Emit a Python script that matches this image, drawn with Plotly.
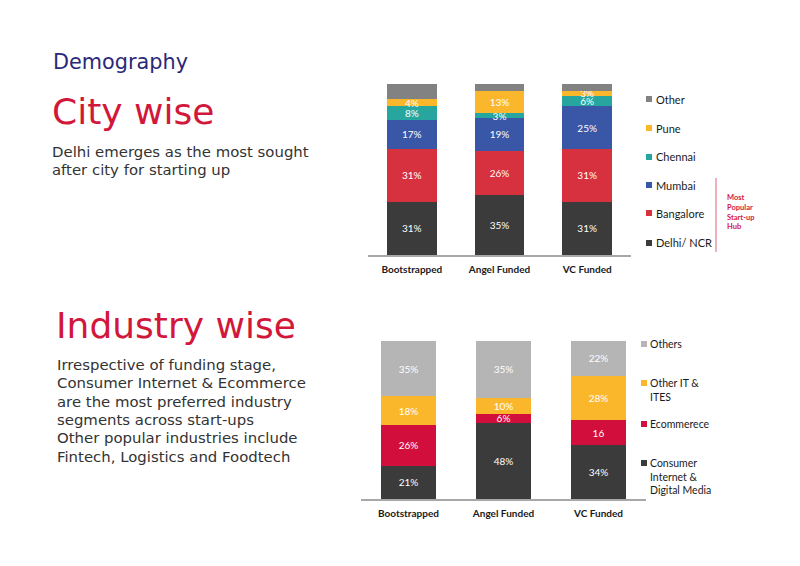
import plotly.graph_objects as go

W, H = 800, 566

# ---------------- data ----------------
funding = ["Bootstrapped", "Angel Funded", "VC Funded"]

# City wise (%)
city_names = ["Delhi/ NCR", "Bangalore", "Mumbai", "Chennai", "Pune", "Other"]
delhi = [31, 35, 31]
bangalore = [31, 26, 31]
mumbai = [17, 19, 25]
chennai = [8, 3, 6]
pune = [4, 13, 3]
other_city = [9, 4, 4]
city_series = [delhi, bangalore, mumbai, chennai, pune, other_city]
city_show_label = [True, True, True, True, True, False]

# Industry wise (%)
ind_names = ["Consumer<br>Internet &<br>Digital Media", "Ecommerece", "Other IT &<br>ITES", "Others"]
consumer = [21, 48, 34]
ecommerce = [26, 6, 16]
other_it = [18, 10, 28]
others_ind = [35, 36, 22]
ind_series = [consumer, ecommerce, other_it, others_ind]
ind_text = [
    ["21%", "48%", "34%"],
    ["26%", "6%", "16"],
    ["18%", "10%", "28%"],
    ["35%", "35%", "22%"],
]

# ---------------- style ----------------
city_colors = ["#3b3b3b", "#d7303e", "#3a56a6", "#26a69e", "#fbb72c", "#828282"]
ind_colors = ["#3b3b3b", "#d20e3c", "#fbb72c", "#b5b5b5"]
LABEL_FONT = "Lato"
TEXT_FONT = "DejaVu Sans"


def px(x):
    return x / W


def py(y):
    return 1 - y / H


fig = go.Figure()

for name, vals, col, show in zip(city_names, city_series, city_colors, city_show_label):
    fig.add_trace(go.Bar(
        x=funding, y=vals, name=name, marker=dict(color=col, line=dict(width=0)),
        text=[f"{v}%" for v in vals] if show else None,
        textposition="inside", insidetextanchor="middle", constraintext="none",
        textfont=dict(color="white", size=10, family=LABEL_FONT),
        textangle=0, xaxis="x", yaxis="y", showlegend=False, cliponaxis=False,
    ))

for name, vals, col, txt in zip(ind_names, ind_series, ind_colors, ind_text):
    fig.add_trace(go.Bar(
        x=funding, y=vals, name=name, marker=dict(color=col, line=dict(width=0)),
        text=txt, textposition="inside", insidetextanchor="middle", constraintext="none",
        textfont=dict(color="white", size=10, family=LABEL_FONT),
        textangle=0, xaxis="x2", yaxis="y2", showlegend=False, cliponaxis=False,
    ))

axis_common = dict(showline=True, linecolor="#a8a8a8", linewidth=1.5, ticks="",
                   showgrid=False, zeroline=False, ticklabelstandoff=4,
                   tickfont=dict(family=LABEL_FONT, size=10, color="#1a1a1a", weight="bold"))

fig.update_layout(
    width=W, height=H, margin=dict(l=0, r=0, t=0, b=0),
    paper_bgcolor="white", plot_bgcolor="white",
    barmode="stack", bargap=0.43,
    xaxis=dict(domain=[px(368), px(631)], anchor="y", **axis_common),
    yaxis=dict(domain=[py(255), py(84)], range=[0, 100], visible=False, fixedrange=True),
    xaxis2=dict(domain=[px(361), px(646)], anchor="y2", **axis_common),
    yaxis2=dict(domain=[py(499), py(341)], range=[0, 100], visible=False, fixedrange=True),
    showlegend=False,
)

annotations = []
shapes = []

# Legend - city (top to bottom)
city_leg_y = [243, 213, 185, 157, 128, 99]
for name, col, yy in zip(city_names, city_colors, city_leg_y):
    shapes.append(dict(type="rect", xref="paper", yref="paper",
                       x0=px(646), x1=px(652), y0=py(yy + 3), y1=py(yy - 3),
                       fillcolor=col, line=dict(width=0)))
    annotations.append(dict(text=name, x=px(654), y=py(yy), xref="paper", yref="paper",
                            xanchor="left", yanchor="middle", showarrow=False,
                            font=dict(family=LABEL_FONT, size=11, color="#1a1a1a")))

# Most popular hub marker
shapes.append(dict(type="line", xref="paper", yref="paper",
                   x0=px(716), x1=px(716), y0=py(178), y1=py(252),
                   line=dict(color="#e0607a", width=1)))
annotations.append(dict(text="<b>Most<br>Popular<br>Start-up<br>Hub</b>", x=px(725), y=py(212),
                        xref="paper", yref="paper", xanchor="left", yanchor="middle",
                        align="left", showarrow=False,
                        font=dict(family=LABEL_FONT, size=7.5, color="#d6173f")))

# Legend - industry
ind_leg_y = [463, 424, 383, 344]
for name, col, yy in zip(ind_names, ind_colors, ind_leg_y):
    shapes.append(dict(type="rect", xref="paper", yref="paper",
                       x0=px(641), x1=px(647), y0=py(yy + 3), y1=py(yy - 3),
                       fillcolor=col, line=dict(width=0)))
    annotations.append(dict(text=name, x=px(648), y=py(yy - 8), xref="paper", yref="paper",
                            xanchor="left", yanchor="top", align="left", showarrow=False,
                            font=dict(family=LABEL_FONT, size=10.5, color="#1a1a1a")))

# Headings and body text
annotations.append(dict(text="Demography", x=px(51), y=py(62), xref="paper", yref="paper",
                        xanchor="left", yanchor="middle", showarrow=False,
                        font=dict(family=TEXT_FONT, size=20.8, color="#2a2878")))
annotations.append(dict(text="City wise", x=px(50), y=py(111), xref="paper", yref="paper",
                        xanchor="left", yanchor="middle", showarrow=False,
                        font=dict(family=TEXT_FONT, size=36, color="#d2173a")))
annotations.append(dict(text="Industry wise", x=px(54), y=py(325), xref="paper", yref="paper",
                        xanchor="left", yanchor="middle", showarrow=False,
                        font=dict(family=TEXT_FONT, size=36, color="#d2173a")))

city_body = ["Delhi emerges as the most sought", "after city for starting up"]
for i, line in enumerate(city_body):
    annotations.append(dict(text=line, x=px(50), y=py(152 + 18 * i), xref="paper", yref="paper",
                            xanchor="left", yanchor="middle", showarrow=False,
                            font=dict(family=TEXT_FONT, size=14.9, color="#333333")))

ind_body = ["Irrespective of funding stage,", "Consumer Internet & Ecommerce",
            "are the most preferred industry", "segments across start-ups",
            "Other popular industries include", "Fintech, Logistics and Foodtech"]
for i, line in enumerate(ind_body):
    annotations.append(dict(text=line, x=px(55), y=py(365 + 18.3 * i), xref="paper", yref="paper",
                            xanchor="left", yanchor="middle", showarrow=False,
                            font=dict(family=TEXT_FONT, size=14.9, color="#333333")))

fig.update_layout(annotations=annotations, shapes=shapes)

fig.write_html("out.html")
